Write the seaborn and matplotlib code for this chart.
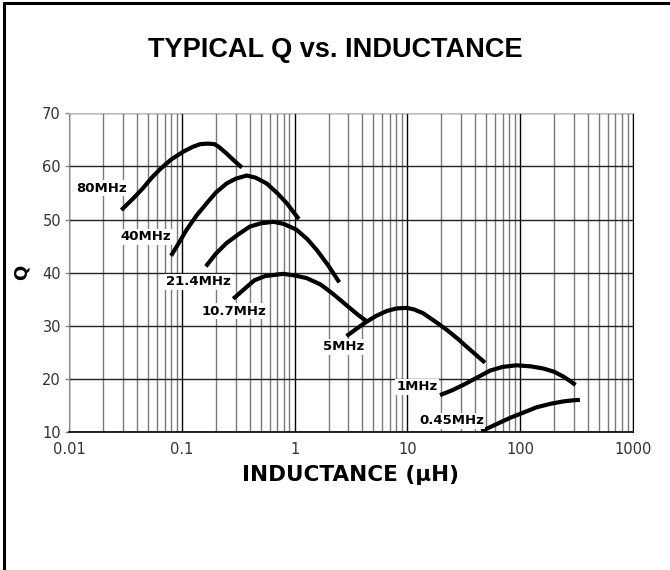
import matplotlib
matplotlib.use("Agg")
import matplotlib.pyplot as plt
from matplotlib.lines import Line2D
from matplotlib.ticker import LogLocator, FixedLocator, NullFormatter
import numpy as np
import pandas as pd
import seaborn as sns

# Q vs inductance curves
l_80 = [0.029, 0.037, 0.045, 0.054, 0.064, 0.08, 0.103, 0.125, 0.145, 0.17, 0.195, 0.215, 0.25, 0.29, 0.34]
q_80 = [51.8, 54.0, 55.9, 57.9, 59.5, 61.3, 62.8, 63.7, 64.2, 64.3, 64.2, 63.6, 62.4, 61.1, 59.8]

l_40 = [0.080, 0.095, 0.110, 0.135, 0.166, 0.20, 0.249, 0.30, 0.375, 0.45, 0.565, 0.70, 0.85, 1.09]
q_40 = [43.2, 45.8, 48.1, 50.8, 53.1, 55.1, 56.8, 57.7, 58.3, 57.9, 56.8, 55.0, 53.1, 50.1]

l_214 = [0.163, 0.20, 0.249, 0.32, 0.401, 0.50, 0.646, 0.80, 1.04, 1.30, 1.57, 2.0, 2.49]
q_214 = [41.2, 43.6, 45.6, 47.3, 48.7, 49.3, 49.6, 49.2, 48.1, 46.3, 44.3, 41.3, 38.2]

l_107 = [0.285, 0.36, 0.44, 0.55, 0.79, 1.0, 1.28, 1.7, 2.2, 3.0, 3.6, 4.4]
q_107 = [35.1, 37.0, 38.6, 39.4, 39.8, 39.5, 39.0, 37.8, 36.0, 33.6, 32.2, 30.8]

l_5 = [2.89, 3.5, 4.35, 5.3, 6.55, 8.0, 9.9, 11.5, 13.8, 17.5, 22.3, 28.0, 33.6, 40.0, 48.9]
q_5 = [28.1, 29.4, 30.8, 31.9, 32.8, 33.3, 33.4, 33.1, 32.4, 30.9, 29.3, 27.6, 26.1, 24.7, 23.1]

l_1 = [19.5, 25.0, 31.3, 40.0, 54.1, 70.0, 93.3, 125.0, 160.7, 200.0, 241.5, 280.0, 311.0]
q_1 = [17.0, 17.9, 18.9, 20.1, 21.6, 22.3, 22.6, 22.4, 22.0, 21.4, 20.5, 19.6, 18.9]

l_045 = [45.5, 60.0, 81.3, 110.0, 140.3, 190.0, 241.5, 290.0, 340.0]
q_045 = [10.2, 11.4, 12.7, 13.8, 14.7, 15.4, 15.8, 16.0, 16.1]

curve_names = ["80MHz", "40MHz", "21.4MHz", "10.7MHz", "5MHz", "1MHz", "0.45MHz"]
curve_l = [l_80, l_40, l_214, l_107, l_5, l_1, l_045]
curve_q = [q_80, q_40, q_214, q_107, q_5, q_1, q_045]

# label anchor (left edge, vertical centre) for each curve name
label_l = [0.0115, 0.0286, 0.0721, 0.150, 1.78, 8.04, 12.7]
label_q = [55.9, 46.8, 38.3, 32.8, 26.1, 18.6, 12.2]

x_ticks = [0.01, 0.1, 1, 10, 100, 1000]
x_ticklabels = ["0.01", "0.1", "1", "10", "100", "1000"]
y_ticks = [10, 20, 30, 40, 50, 60, 70]

df = pd.concat(
    [pd.DataFrame({"L": l, "Q": q, "curve": n}) for n, l, q in zip(curve_names, curve_l, curve_q)],
    ignore_index=True,
)

sns.set_style("white")
plt.rcParams["font.family"] = ["DejaVu Sans"]
plt.rcParams["text.color"] = "black"
plt.rcParams["axes.labelcolor"] = "black"

fig = plt.figure(figsize=(6.7, 5.7), dpi=100)
ax = fig.add_axes([0.1034, 0.2416, 0.9443 - 0.1034, 0.8012 - 0.2416])

sns.lineplot(
    data=df, x="L", y="Q", hue="curve", units="curve", estimator=None, sort=False,
    palette={n: "black" for n in curve_names}, linewidth=3.0, legend=False, ax=ax,
    solid_capstyle="butt", solid_joinstyle="round",
)

ax.set_xscale("log")
ax.set_xlim(0.01, 1000)
ax.set_ylim(10, 70)

ax.xaxis.set_major_locator(FixedLocator(x_ticks))
ax.set_xticklabels(x_ticklabels)
ax.xaxis.set_minor_locator(LogLocator(base=10, subs=np.arange(2, 10), numticks=100))
ax.xaxis.set_minor_formatter(NullFormatter())
ax.set_yticks(y_ticks)

ax.grid(which="major", axis="x", color="black", linewidth=1.0)
ax.grid(which="minor", axis="x", color="#7a7a7a", linewidth=1.0)
ax.grid(which="major", axis="y", color="#222222", linewidth=1.0)
ax.set_axisbelow(True)

ax.tick_params(axis="x", which="both", length=0, pad=7, labelsize=10.5, labelcolor="#333333")
ax.tick_params(axis="y", which="major", length=3, width=1, color="#888888",
               direction="out", left=True, pad=3, labelsize=10.5, labelcolor="#333333")

ax.spines["bottom"].set_color("black")
ax.spines["bottom"].set_linewidth(1.2)
ax.spines["left"].set_color("#888888")
ax.spines["top"].set_color("#bbbbbb")
ax.spines["right"].set_color("black")
for s in ax.spines.values():
    s.set_visible(True)

for name, lx, ly in zip(curve_names, label_l, label_q):
    ax.text(lx, ly, name, ha="left", va="center", fontsize=9.5, fontweight="bold",
            color="black", bbox=dict(facecolor="white", edgecolor="none", pad=1.0), zorder=5)

ax.set_xlabel("INDUCTANCE (μH)", fontsize=15.5, fontweight="bold", labelpad=6)
ax.set_ylabel("Q", fontsize=13, fontweight="bold", labelpad=8)

fig.text(0.5, 1 - 50 / 570, "TYPICAL Q vs. INDUCTANCE", ha="center", va="center",
         fontsize=19.5, fontweight="bold", color="black",
         family=["Liberation Sans Narrow", "Liberation Sans", "DejaVu Sans"])

# outer frame: left and top edges
fig.add_artist(Line2D([4 / 670, 4 / 670], [0, 1 - 3 / 570], transform=fig.transFigure,
                      color="black", linewidth=2.2))
fig.add_artist(Line2D([4 / 670, 1], [1 - 3 / 570, 1 - 3 / 570], transform=fig.transFigure,
                      color="black", linewidth=2.2))

fig.savefig("out.png", dpi=100, facecolor="white")
